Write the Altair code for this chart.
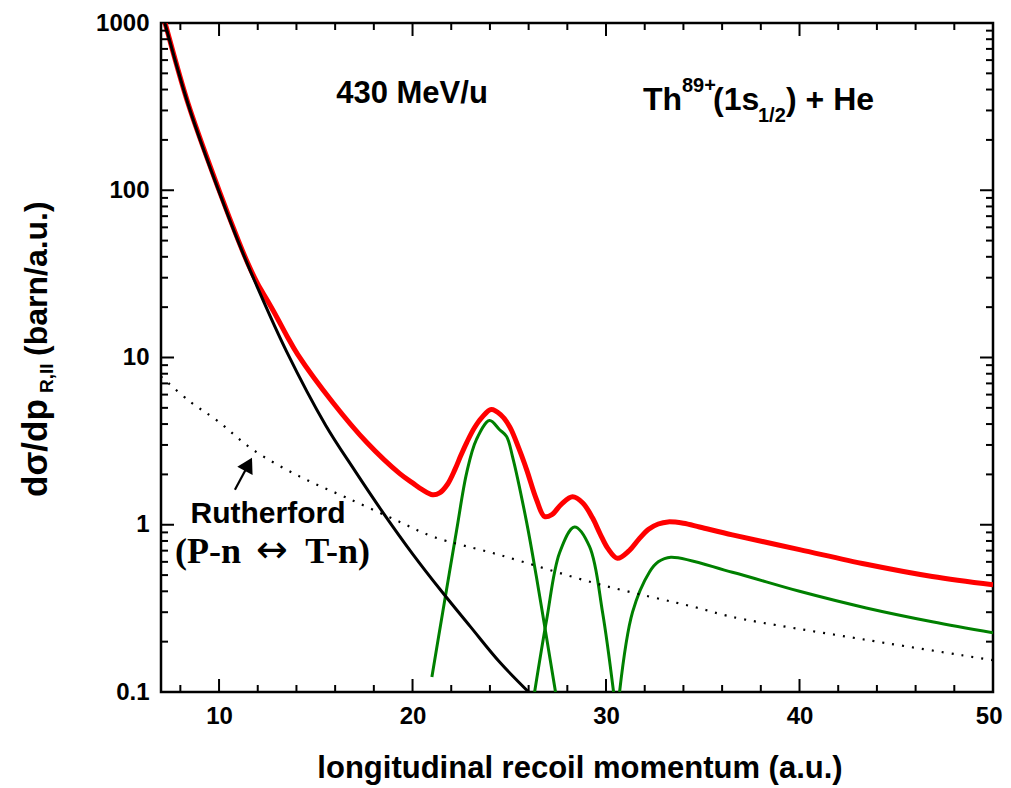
import altair as alt
import pandas as pd

# ---------------- data ----------------
black_x = [7.0, 7.2, 7.8, 8.4, 9.2, 10.0, 11.0, 12.0, 13.5, 15.5, 17.0, 18.5, 20.0, 21.5, 23.0, 24.5, 26.0]
black_y = [1220, 1000, 560, 327, 175, 98, 49, 26, 10.8, 3.95, 2.12, 1.17, 0.67, 0.40, 0.245, 0.151, 0.1]

red_x = [7.0, 7.2, 8.4, 10.0, 11.0, 11.5, 12.0, 12.5, 13.0, 13.5, 14.07, 15.88, 17.64, 19.34, 20.0, 20.5,
         21.04, 21.4, 21.8, 22.2, 22.5, 22.8, 23.2, 23.6, 24.07, 24.55, 25.02, 25.5, 25.9, 26.4, 26.82,
         27.2, 27.7, 28.27, 28.8, 29.3, 29.7, 30.1, 30.59, 31.2, 31.7, 32.2, 32.7, 33.2, 34.0, 34.83,
         36.53, 40.0, 43.45, 46.86, 50.0]
red_y = [1220, 1010, 330, 100, 50.0, 36.3, 27.5, 21.9, 17.3, 13.5, 10.4, 5.38, 3.1, 2.02, 1.78, 1.62,
         1.51, 1.55, 1.74, 2.15, 2.6, 3.1, 3.8, 4.4, 4.88, 4.55, 3.86, 2.85, 2.13, 1.42, 1.12,
         1.15, 1.33, 1.47, 1.35, 1.1, 0.88, 0.72, 0.63, 0.70, 0.82, 0.94, 1.01, 1.04, 1.02, 0.97,
         0.87, 0.71, 0.58, 0.49, 0.437]

green1_x = [21.0, 21.56, 22.28, 22.8, 23.3, 23.98, 24.5, 24.86, 25.17, 25.9, 26.4, 26.93, 27.39]
green1_y = [0.123, 0.30, 0.93, 2.05, 3.23, 4.2, 3.7, 3.37, 2.55, 1.03, 0.49, 0.21, 0.1]
green2_x = [26.31, 26.93, 27.6, 28.37, 29.15, 29.82, 30.39]
green2_y = [0.1, 0.27, 0.68, 0.97, 0.74, 0.30, 0.1]
green3_x = [30.7, 31.37, 32.24, 32.7, 33.35, 36.53, 40.0, 43.45, 46.86, 50.0]
green3_y = [0.1, 0.30, 0.52, 0.60, 0.64, 0.52, 0.40, 0.318, 0.263, 0.226]

ruth_x = [7.0, 8.5, 9.9, 11.75, 14.18, 16.6, 19.34, 21.04, 24.5, 29.66, 34.67, 36.53, 43.45, 50.0]
ruth_y = [7.7, 5.45, 4.2, 2.81, 1.94, 1.45, 1.04, 0.85, 0.66, 0.44, 0.32, 0.281, 0.205, 0.155]

x_labels = [10, 20, 30, 40, 50]
y_labels = [0.1, 1, 10, 100, 1000]
x_major = [10, 20, 30, 40]
x_minor = [8, 12, 14, 16, 18, 22, 24, 26, 28, 32, 34, 36, 38, 42, 44, 46, 48]
y_major = [1, 10, 100]
y_minor = [m * d for d in [0.1, 1, 10, 100] for m in range(2, 10)]

# ---------------- chart ----------------
W, H = 832, 669
FONT = "Liberation Sans"
xs = alt.Scale(domain=[7, 50], nice=False, zero=False)
ys = alt.Scale(type="log", domain=[0.1, 1000], nice=False)
XA = alt.Axis(values=x_labels, ticks=False, tickSize=0, domain=False, grid=False,
              labelFont=FONT, labelFontSize=24, labelFontWeight="bold", labelColor="black",
              labelPadding=12, labelFlush=True, labelFlushOffset=9, labelOverlap=False,
              title=None, format="d")
YA = alt.Axis(values=y_labels, ticks=False, tickSize=0, domain=False, grid=False,
              labelFont=FONT, labelFontSize=24, labelFontWeight="bold", labelColor="black",
              labelPadding=12, labelOverlap=False, title=None, format="~g")


def X(f):
    return alt.X(f, scale=xs, axis=XA)


def Y(f):
    return alt.Y(f, scale=ys, axis=YA)


def frame(xv, yv, seg=0):
    return pd.DataFrame({"x": xv, "y": yv, "seg": seg, "i": list(range(len(xv)))})


def line(df, color, width, dash=None):
    kw = dict(color=color, strokeWidth=width, clip=True, interpolate="catmull-rom")
    if dash:
        kw["strokeDash"] = dash
    return alt.Chart(df).mark_line(**kw).encode(
        x=X("x:Q"), y=Y("y:Q"), detail="seg:N", order="i:Q")


red = line(frame(red_x, red_y), "#ff0000", 5)
green = line(pd.concat([frame(green1_x, green1_y, 1), frame(green2_x, green2_y, 2),
                        frame(green3_x, green3_y, 3)]), "#008000", 3)
black = line(frame(black_x, black_y), "black", 3)
ruth = line(frame(ruth_x, ruth_y), "black", 2.2, dash=[2, 8])


# inward ticks on all four sides
def xticks(vals, length):
    df = pd.DataFrame({"v": vals})
    base = alt.Chart(df).mark_rule(color="black", strokeWidth=2)
    b = base.encode(x=X("v:Q"), y=alt.value(H), y2=alt.value(H - length))
    t = base.encode(x=X("v:Q"), y=alt.value(0), y2=alt.value(length))
    return [b, t]


def yticks(vals, length):
    df = pd.DataFrame({"v": vals})
    base = alt.Chart(df).mark_rule(color="black", strokeWidth=2)
    l = base.encode(y=Y("v:Q"), x=alt.value(0), x2=alt.value(length))
    r = base.encode(y=Y("v:Q"), x=alt.value(W), x2=alt.value(W - length))
    return [l, r]


ticks = xticks(x_major, 13) + xticks(x_minor, 7) + yticks(y_major, 13) + yticks(y_minor, 7)

# arrow (data coordinates)
arrow_line = alt.Chart(pd.DataFrame({"x": [10.82], "y": [1.62], "x2": [11.36], "y2": [2.12]})).mark_rule(
    color="black", strokeWidth=2.2).encode(x=X("x:Q"), y=Y("y:Q"), x2="x2:Q", y2="y2:Q")
arrow_head = alt.Chart(pd.DataFrame({"x": [11.52], "y": [2.30]})).mark_point(
    shape="triangle-up", filled=True, color="black", opacity=1, size=300, angle=28).encode(
    x=X("x:Q"), y=Y("y:Q"))


def txt(s, px, py, size, font=FONT, align="left", angle=0, baseline="alphabetic", weight="bold"):
    kw = dict(font=font, fontSize=size, fontWeight=weight, color="black", align=align,
              baseline=baseline)
    if angle:
        kw["angle"] = angle
    return alt.Chart(pd.DataFrame({"t": [s]})).mark_text(**kw).encode(
        text="t:N", x=alt.value(px - 161), y=alt.value(py - 23))


texts = [
    txt("430 MeV/u", 412, 103, 31, align="center"),
    txt("Th", 643, 110, 32),
    txt("89+", 682, 92, 20),
    txt("(1s", 713, 110, 32),
    txt("1/2", 758, 122, 20),
    txt(") + He", 786, 110, 32),
    txt("Rutherford", 268, 523, 30, align="center"),
    txt("(P-n", 175, 563, 36, font="Liberation Serif"),
    txt("\u2194", 272, 562, 38, font="DejaVu Sans", align="center", weight="normal"),
    txt("T-n)", 370, 563, 36, font="Liberation Serif", align="right"),
    txt("longitudinal recoil momentum (a.u.)", 580, 778, 31, align="center"),
    txt("d\u03c3/dp", 47, 497, 35, angle=270),
    txt("R,II", 53, 393, 19, angle=270),
    txt("(barn/a.u.)", 47, 356, 32, angle=270),
]

chart = alt.layer(red, green, black, ruth, *ticks, arrow_line, arrow_head, *texts).properties(
    width=W, height=H,
    padding={"left": 153, "top": 15, "right": 10, "bottom": 96},
    autosize=alt.AutoSizeParams(type="none"),
).configure_view(stroke="black", strokeWidth=2.5)

chart.save("out.html", embed_options={"renderer": "svg", "actions": False})
